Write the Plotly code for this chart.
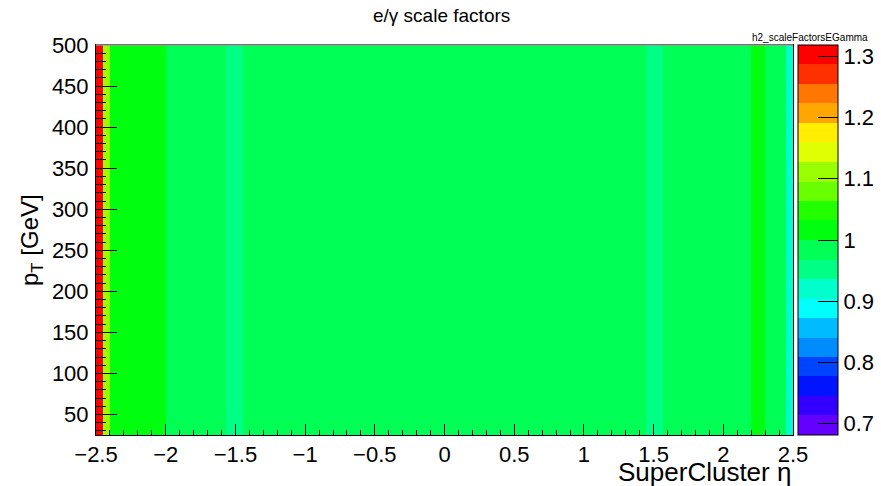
import plotly.graph_objects as go
import colorsys

# Eta bin edges and the scale factor in each eta bin (flat in pT)
eta_edges = [-2.5, -2.45, -2.4, -2.0, -1.566, -1.444, 1.444, 1.566, 2.0, 2.2, 2.3, 2.45, 2.5]
sf_values = [1.30, 1.11, 1.01, 0.99, 0.95, 0.99, 0.95, 0.99, 0.99, 1.01, 0.99, 0.92]
pt_edges = [25, 500]

z_min, z_max = 0.6816, 1.3184
n_contours = 20

x_ticks = [-2.5, -2, -1.5, -1, -0.5, 0, 0.5, 1, 1.5, 2, 2.5]
x_tick_text = ["\u22122.5", "\u22122", "\u22121.5", "\u22121", "\u22120.5", "0", "0.5", "1", "1.5", "2", "2.5"]
y_ticks = [50, 100, 150, 200, 250, 300, 350, 400, 450, 500]
z_ticks = [0.7, 0.8, 0.9, 1.0, 1.1, 1.2, 1.3]
z_tick_text = ["0.7", "0.8", "0.9", "1", "1.1", "1.2", "1.3"]


# Violet -> red spectrum palette (HLS, lightness 0.5, saturation 1), 50 entries
def spectrum_palette():
    cols = []
    for i in range(49):
        hue = 280 - (i + 1) * (280 / 50)
        r, g, b = colorsys.hls_to_rgb(hue / 360.0, 0.5, 1.0)
        cols.append((round(r * 255), round(g * 255), round(b * 255)))
    cols.append((255, 0, 0))
    return cols


palette = spectrum_palette()
band_colors = []
for k in range(n_contours):
    idx = int((k + 0.99) * len(palette) / n_contours)
    r, g, b = palette[idx]
    band_colors.append(f"rgb({r},{g},{b})")

colorscale = []
for k, c in enumerate(band_colors):
    colorscale.append([k / n_contours, c])
    colorscale.append([(k + 1) / n_contours, c])

font_family = "Liberation Sans, Arial, Helvetica, sans-serif"

# Page geometry (pixels)
W, H = 881, 486
m_left, m_right, m_top, m_bottom = 95.5, 0, 44.7, 51
paper_w = W - m_left - m_right
frame_right = 793.0
bar_left = 797.7
x_dom_end = (frame_right - m_left) / paper_w
plot_h = H - m_top - m_bottom

fig = go.Figure(
    go.Heatmap(
        x=eta_edges,
        y=pt_edges,
        z=[sf_values],
        zmin=z_min,
        zmax=z_max,
        colorscale=colorscale,
        colorbar=dict(
            thickness=40,
            thicknessmode="pixels",
            len=plot_h,
            lenmode="pixels",
            xref="container",
            x=bar_left / W,
            xanchor="left",
            y=0.5,
            yanchor="middle",
            xpad=0,
            ypad=0,
            outlinecolor="black",
            outlinewidth=1,
            ticks="inside",
            ticklen=20,
            tickcolor="black",
            tickwidth=1,
            tickvals=z_ticks,
            ticktext=z_tick_text,
            ticklabelposition="outside",
            tickfont=dict(size=22, color="black", family=font_family),
        ),
        hovertemplate="η=%{x}<br>pT=%{y}<br>SF=%{z}<extra></extra>",
    )
)

fig.update_layout(
    width=W,
    height=H,
    margin=dict(l=m_left, r=m_right, t=m_top, b=m_bottom, autoexpand=False),
    paper_bgcolor="white",
    plot_bgcolor="white",
    font=dict(family=font_family, color="black"),
    showlegend=False,
    xaxis=dict(
        domain=[0, x_dom_end],
        range=[-2.5, 2.5],
        tickvals=x_ticks,
        ticktext=x_tick_text,
        ticks="inside",
        ticklen=11,
        tickcolor="black",
        tickwidth=1,
        minor=dict(dtick=0.1, tick0=-2.5, ticks="inside", ticklen=5, tickcolor="black", tickwidth=1),
        showgrid=False,
        zeroline=False,
        showline=True,
        linecolor="black",
        linewidth=1,
        mirror=True,
        tickfont=dict(size=22, color="black"),
        ticklabelstandoff=0,
    ),
    yaxis=dict(
        range=[25, 500],
        tickvals=y_ticks,
        ticks="inside",
        ticklen=21,
        tickcolor="black",
        tickwidth=1,
        minor=dict(dtick=10, tick0=0, ticks="inside", ticklen=10, tickcolor="black", tickwidth=1),
        showgrid=False,
        zeroline=False,
        showline=True,
        linecolor="black",
        linewidth=1,
        mirror=True,
        tickfont=dict(size=22, color="black"),
        ticklabelstandoff=2,
    ),
    shapes=[
        dict(type="line", xref="x domain", yref="y domain", x0=0, x1=1, y0=1, y1=1,
             line=dict(color="#999999", width=1.5)),
    ],
    annotations=[
        dict(text="e/\u03b3 scale factors", xref="x domain", yref="y domain",
             x=0.495, y=1, yshift=30, xanchor="center", yanchor="middle",
             showarrow=False, font=dict(size=19, color="black")),
        dict(text="h2_scaleFactorsEGamma", xref="x domain", yref="y domain",
             x=1.11, y=1, yshift=8, xanchor="right", yanchor="middle",
             showarrow=False, font=dict(size=10, color="black")),
        dict(text="SuperCluster \u03b7", xref="x domain", yref="y domain",
             x=1, y=0, yshift=-37, xanchor="right", yanchor="middle",
             showarrow=False, font=dict(size=26, color="black")),
        dict(text="p<sub>T</sub> [GeV]", xref="x domain", yref="y domain",
             x=0, xshift=-65, y=0.5, xanchor="center", yanchor="middle",
             textangle=-90, showarrow=False, font=dict(size=24, color="black")),
    ],
)

fig.write_html("out.html")
